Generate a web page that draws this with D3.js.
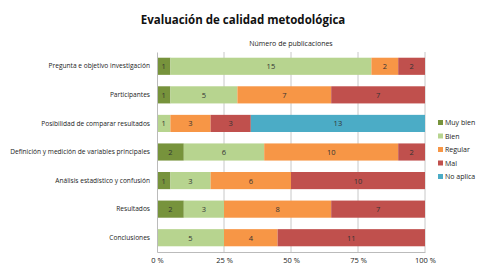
<!DOCTYPE html>
<html>
<head>
<meta charset="utf-8">
<script src="https://cdn.jsdelivr.net/npm/d3@7"></script>
<style>
  body { margin: 0; background: #fff; }
  svg { font-family: "Open Sans", "DejaVu Sans", sans-serif; }
</style>
</head>
<body>
<div id="chart"></div>
<script>
// categories, top to bottom
const categories = [
  "Pregunta e objetivo investigación",
  "Participantes",
  "Posibilidad de comparar resultados",
  "Definición y medición de variables principales",
  "Análisis estadístico y confusión",
  "Resultados",
  "Conclusiones"
];
const seriesNames = ["Muy bien", "Bien", "Regular", "Mal", "No aplica"];
const seriesColors = ["#77933c", "#b7d48f", "#f79646", "#c0504d", "#4bacc6"];

// number of publications per category
const muyBien  = [1, 1, 0, 2, 1, 2, 0];
const bien     = [15, 5, 1, 6, 3, 3, 5];
const regular  = [2, 7, 3, 10, 6, 8, 4];
const mal      = [2, 7, 3, 2, 10, 7, 11];
const noAplica = [0, 0, 13, 0, 0, 0, 0];

const tickValues = [0, 0.25, 0.5, 0.75, 1];
const tickLabels = ["0 %", "25 %", "50 %", "75 %", "100 %"];

const W = 492, H = 273;
const margin = {top: 52, right: 67, bottom: 21, left: 157};

const svg = d3.select("#chart").append("svg")
  .attr("width", W).attr("height", H);

const x = d3.scaleLinear().domain([0, 1]).range([margin.left, W - margin.right]);
const y = d3.scaleBand().domain(categories)
  .range([margin.top, H - margin.bottom]).paddingInner(0.4).paddingOuter(0.2);

// title
svg.append("text").attr("x", 243).attr("y", 24)
  .attr("text-anchor", "middle").attr("font-size", 11.5).attr("font-weight", "bold")
  .attr("fill", "#111").text("Evaluación de calidad metodológica");
svg.append("text").attr("x", 291).attr("y", 46)
  .attr("text-anchor", "middle").attr("font-size", 7).attr("fill", "#222")
  .text("Número de  publicaciones");

// gridlines
svg.append("g").selectAll("line").data(tickValues.slice(1)).join("line")
  .attr("x1", d => x(d)).attr("x2", d => x(d))
  .attr("y1", margin.top).attr("y2", H - margin.bottom)
  .attr("stroke", "#c8c8c8").attr("stroke-width", 1);

// stacked data
const rows = categories.map((c, i) => {
  const vals = [muyBien[i], bien[i], regular[i], mal[i], noAplica[i]];
  const total = d3.sum(vals);
  let acc = 0;
  return vals.map((v, k) => {
    const seg = {cat: c, k, v, x0: acc / total, x1: (acc + v) / total};
    acc += v;
    return seg;
  }).filter(s => s.v > 0);
});
const segs = rows.flat();

svg.append("g").selectAll("rect").data(segs).join("rect")
  .attr("x", d => x(d.x0)).attr("width", d => x(d.x1) - x(d.x0))
  .attr("y", d => y(d.cat)).attr("height", y.bandwidth())
  .attr("fill", d => seriesColors[d.k]);

svg.append("g").selectAll("text").data(segs).join("text")
  .attr("x", d => (x(d.x0) + x(d.x1)) / 2)
  .attr("y", d => y(d.cat) + y.bandwidth() / 2 + 3)
  .attr("text-anchor", "middle").attr("font-size", 7.5).attr("fill", "#333")
  .text(d => d.v);

// axes
const yAxis = svg.append("g").attr("transform", `translate(${margin.left},0)`)
  .call(d3.axisLeft(y).tickSize(0).tickPadding(7));
yAxis.select(".domain").attr("stroke", "#bbb");
yAxis.selectAll("text").attr("font-size", 6.6).attr("fill", "#222")
  .attr("font-family", "'Open Sans', 'DejaVu Sans', sans-serif");

const xAxis = svg.append("g").attr("transform", `translate(0,${H - margin.bottom})`)
  .call(d3.axisBottom(x).tickValues(tickValues).tickFormat((d, i) => tickLabels[i]).tickSize(0).tickPadding(6));
xAxis.select(".domain").attr("stroke", "#bbb");
xAxis.selectAll("text").attr("font-size", 7.5).attr("fill", "#222")
  .attr("font-family", "'Open Sans', 'DejaVu Sans', sans-serif");

// legend
const legend = svg.append("g").attr("transform", "translate(438,123)");
const item = legend.selectAll("g").data(seriesNames).join("g")
  .attr("transform", (d, i) => `translate(0,${i * 13.5})`);
item.append("rect").attr("x", 0).attr("y", -3).attr("width", 5).attr("height", 5)
  .attr("fill", (d, i) => seriesColors[i]);
item.append("text").attr("x", 7).attr("y", 2).attr("font-size", 7).attr("fill", "#222").text(d => d);
</script>
</body>
</html>
